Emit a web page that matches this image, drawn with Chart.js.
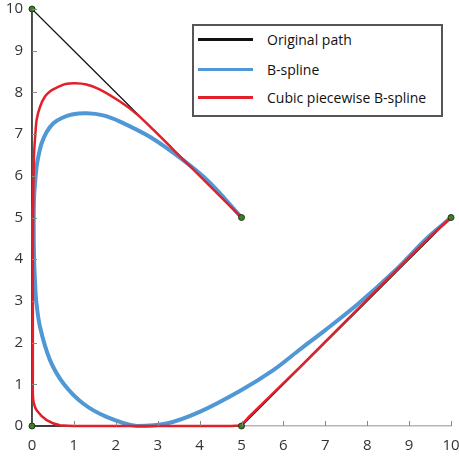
<!DOCTYPE html>
<html><head><meta charset="utf-8">
<script src="https://cdn.jsdelivr.net/npm/chart.js@4.4.0/dist/chart.umd.min.js"></script>
<style>
html,body{margin:0;padding:0;background:#fff;}
#wrap{position:relative;width:459px;height:457px;}
#legend{position:absolute;left:192px;top:24px;width:247px;height:89px;border:2px solid #555;background:#fff;font-family:"Open Sans",sans-serif;font-size:14px;color:#111;}
.row{position:absolute;left:0;height:20px;width:100%;}
.sw{position:absolute;left:4px;top:8px;width:55px;height:3px;}
.tx{position:absolute;left:73px;top:0;line-height:20px;white-space:nowrap;}
</style>
</head><body>
<div id="wrap">
<canvas id="c" width="459" height="457"></canvas>
<div id="legend"></div>
</div>
<script>
// Series labels
const seriesNames = ["Original path", "B-spline", "Cubic piecewise B-spline"];
const seriesColors = ["#111111", "#4f97d5", "#e3202a"];

// Original path (control polygon)
const pathX = [5, 0, 0, 5, 10];
const pathY = [5, 10, 0, 0, 5];

// B-spline
const bsplineX = [5, 4.25, 3.6, 2.82, 2.1, 1.7, 1.31, 0.95, 0.7, 0.51, 0.35, 0.23, 0.16, 0.11, 0.08, 0.05, 0.04, 0.05, 0.07, 0.1, 0.19, 0.43, 0.75, 1.22, 1.78, 2.5, 3.21, 4.0, 4.96, 5.76, 6.4, 7.0, 7.75, 8.7, 9.4, 10];
const bsplineY = [5, 5.83, 6.38, 6.93, 7.3, 7.45, 7.5, 7.47, 7.38, 7.26, 7.05, 6.78, 6.5, 6.22, 5.9, 5.5, 4.8, 4.0, 3.5, 3.0, 2.38, 1.58, 1.02, 0.54, 0.22, 0.0, 0.06, 0.34, 0.84, 1.34, 1.84, 2.3, 2.9, 3.76, 4.48, 5];

// Cubic piecewise B-spline
const cubicX = [5, 4.2, 3.4, 2.9, 2.5, 2.1, 1.6, 1.3, 1.03, 0.8, 0.6, 0.45, 0.31, 0.19, 0.11, 0.08, 0.05, 0.04, 0.03, 0.02, 0.02, 0.02, 0.02, 0.04, 0.11, 0.35, 0.67, 1.2, 3.0, 4.75, 4.92, 5.05, 5.2, 6.4, 7.91, 9.42, 10];
const cubicY = [5, 5.8, 6.6, 7.1, 7.48, 7.78, 8.08, 8.19, 8.22, 8.2, 8.12, 8.04, 7.9, 7.65, 7.34, 7.0, 6.55, 6.1, 5.5, 4.0, 2.5, 1.2, 0.78, 0.56, 0.38, 0.14, 0.02, 0, 0, 0, 0.01, 0.08, 0.24, 1.42, 2.94, 4.46, 5];

// Axis ticks
const xTicks = [0,1,2,3,4,5,6,7,8,9,10];
const yTicks = [0,1,2,3,4,5,6,7,8,9,10];

const zip = (xs, ys) => xs.map((x, i) => ({x: x, y: ys[i]}));

const tickMarks = {
  id: 'tickMarks',
  afterDatasetsDraw(chart) {
    const {ctx, scales: {x, y}} = chart;
    ctx.save();
    ctx.strokeStyle = '#888';
    ctx.lineWidth = 1;
    xTicks.forEach(v => { if (v === 0) return; const px = Math.round(x.getPixelForValue(v)) + 0.5; ctx.beginPath(); ctx.moveTo(px, y.bottom); ctx.lineTo(px, y.bottom - 5); ctx.stroke(); });
    yTicks.forEach(v => { if (v === 0) return; const py = Math.round(y.getPixelForValue(v)) + 0.5; ctx.beginPath(); ctx.moveTo(x.left, py); ctx.lineTo(x.left + 5, py); ctx.stroke(); });
    ctx.restore();
  }
};

const font = {family: '"Open Sans", sans-serif', size: 15};

new Chart(document.getElementById('c'), {
  type: 'scatter',
  data: {
    datasets: [
      {label: 'points', data: zip(pathX, pathY), showLine: false, pointRadius: 3, pointBackgroundColor: '#3f7d2d', pointBorderColor: '#1e3a14', pointBorderWidth: 1, order: 0, clip: false},
      {label: seriesNames[2], data: zip(cubicX, cubicY), showLine: true, borderColor: seriesColors[2], borderWidth: 2.5, pointRadius: 0, tension: 0.3, order: 1, clip: false},
      {label: seriesNames[1], data: zip(bsplineX, bsplineY), showLine: true, borderColor: seriesColors[1], borderWidth: 4, pointRadius: 0, tension: 0.3, order: 2, clip: false},
      {label: seriesNames[0], data: zip(pathX, pathY), showLine: true, borderColor: seriesColors[0], borderWidth: 1.3, pointRadius: 0, tension: 0, order: 3, clip: false}
    ]
  },
  options: {
    responsive: false,
    animation: false,
    layout: {padding: {top: 9, right: 8, left: 0, bottom: 0}},
    plugins: {legend: {display: false}, tooltip: {enabled: false}},
    scales: {
      x: {
        type: 'linear', min: 0, max: 10,
        afterFit: s => { s.height = 31; s.paddingLeft = 0; s.paddingRight = 0; },
        afterBuildTicks: s => { s.ticks = xTicks.map(v => ({value: v})); },
        ticks: {padding: 11, color: '#333', font: font, maxRotation: 0},
        grid: {display: true, drawOnChartArea: false, drawTicks: false},
        border: {display: true, color: '#b5b5b5', width: 1.5}
      },
      y: {
        type: 'linear', min: 0, max: 10,
        afterFit: s => { s.width = 32; s.paddingTop = 0; s.paddingBottom = 0; },
        afterBuildTicks: s => { s.ticks = yTicks.map(v => ({value: v})); },
        ticks: {padding: 9, color: '#333', font: font},
        grid: {display: true, drawOnChartArea: false, drawTicks: false},
        border: {display: true, color: '#b5b5b5', width: 1.5}
      }
    }
  },
  plugins: [tickMarks]
});

const leg = document.getElementById('legend');
const rowTops = [4, 34, 62];
seriesNames.forEach((n, i) => {
  const r = document.createElement('div');
  r.className = 'row';
  r.style.top = rowTops[i] + 'px';
  r.innerHTML = '<div class="sw" style="background:' + seriesColors[i] + '"></div><div class="tx">' + n + '</div>';
  leg.appendChild(r);
});
</script>
</body></html>
